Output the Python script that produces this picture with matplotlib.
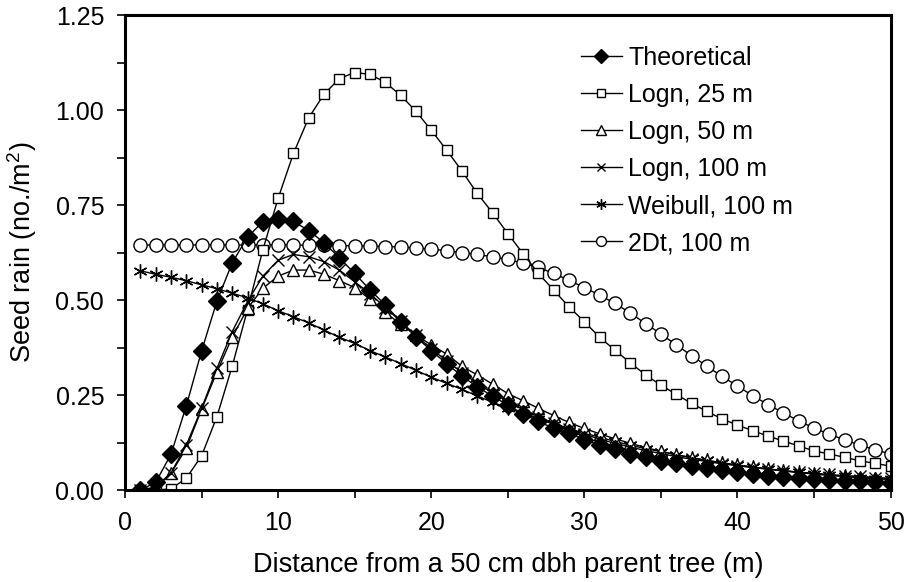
import numpy as np
import matplotlib
matplotlib.use("Agg")
import matplotlib.pyplot as plt
from matplotlib.ticker import MultipleLocator, FormatStrFormatter

plt.rcParams['font.family'] = ['Liberation Sans', 'DejaVu Sans']
plt.rcParams['mathtext.fontset'] = 'custom'
plt.rcParams['mathtext.rm'] = 'Liberation Sans'
plt.rcParams['mathtext.default'] = 'regular'

# distance from parent tree (m)
distance = np.arange(1, 51)

theoretical = [0.0, 0.02, 0.094, 0.221, 0.366, 0.497, 0.598, 0.666, 0.706, 0.714,
               0.707, 0.683, 0.651, 0.611, 0.570, 0.527, 0.487, 0.443, 0.403, 0.367,
               0.333, 0.300, 0.272, 0.247, 0.224, 0.200, 0.181, 0.162, 0.149, 0.133,
               0.118, 0.107, 0.095, 0.086, 0.077, 0.070, 0.063, 0.057, 0.053, 0.047,
               0.042, 0.038, 0.035, 0.031, 0.029, 0.026, 0.025, 0.023, 0.021, 0.019]

logn_25 = [0.0, 0.0, 0.003, 0.031, 0.090, 0.193, 0.326, 0.475, 0.632, 0.768,
           0.886, 0.980, 1.042, 1.083, 1.099, 1.094, 1.073, 1.039, 0.997, 0.947,
           0.895, 0.840, 0.781, 0.730, 0.675, 0.622, 0.570, 0.526, 0.482, 0.443,
           0.402, 0.368, 0.335, 0.303, 0.276, 0.252, 0.228, 0.207, 0.187, 0.171,
           0.156, 0.142, 0.129, 0.116, 0.103, 0.095, 0.086, 0.077, 0.070, 0.063]

logn_50 = [0.0, 0.005, 0.044, 0.110, 0.212, 0.311, 0.402, 0.478, 0.531, 0.563,
           0.579, 0.579, 0.568, 0.551, 0.533, 0.502, 0.468, 0.436, 0.408, 0.382,
           0.358, 0.326, 0.303, 0.279, 0.254, 0.235, 0.215, 0.196, 0.178, 0.162,
           0.148, 0.135, 0.123, 0.112, 0.102, 0.093, 0.085, 0.078, 0.071, 0.065,
           0.060, 0.055, 0.050, 0.046, 0.042, 0.039, 0.036, 0.033, 0.031, 0.028]

logn_100 = [0.0, 0.008, 0.045, 0.118, 0.215, 0.320, 0.417, 0.496, 0.563, 0.605,
            0.620, 0.614, 0.601, 0.579, 0.548, 0.517, 0.480, 0.444, 0.407, 0.372,
            0.340, 0.309, 0.281, 0.256, 0.233, 0.212, 0.193, 0.176, 0.161, 0.147,
            0.134, 0.123, 0.113, 0.104, 0.096, 0.088, 0.081, 0.075, 0.069, 0.064,
            0.059, 0.055, 0.051, 0.047, 0.044, 0.041, 0.038, 0.036, 0.033, 0.031]

weibull_100 = [0.577, 0.568, 0.560, 0.551, 0.540, 0.530, 0.518, 0.506, 0.490, 0.472,
               0.456, 0.440, 0.421, 0.402, 0.386, 0.367, 0.350, 0.333, 0.315, 0.297,
               0.281, 0.265, 0.248, 0.231, 0.216, 0.201, 0.187, 0.174, 0.161, 0.150,
               0.139, 0.128, 0.118, 0.109, 0.101, 0.093, 0.085, 0.078, 0.072, 0.066,
               0.061, 0.056, 0.051, 0.047, 0.043, 0.039, 0.036, 0.033, 0.030, 0.028]

t2d_100 = [0.645, 0.645, 0.645, 0.645, 0.645, 0.645, 0.645, 0.645, 0.645, 0.645,
           0.645, 0.644, 0.644, 0.643, 0.643, 0.642, 0.641, 0.640, 0.637, 0.634,
           0.630, 0.625, 0.620, 0.614, 0.607, 0.597, 0.586, 0.570, 0.552, 0.533,
           0.513, 0.491, 0.466, 0.438, 0.411, 0.382, 0.354, 0.326, 0.299, 0.274,
           0.248, 0.225, 0.203, 0.182, 0.163, 0.147, 0.132, 0.118, 0.106, 0.095]

fig = plt.figure(figsize=(9.06, 5.82), dpi=100)
ax = fig.add_axes([0.138, 0.158, 0.845, 0.816])

common = dict(color='black', lw=1.0, mec='black', mew=1.0)
ax.plot(distance, t2d_100, marker='o', ms=9.5, mfc='white', label='2Dt, 100 m', **common)
ax.plot(distance, logn_25, marker='s', ms=7.5, mfc='white', label='Logn, 25 m', **common)
ax.plot(distance, weibull_100, marker=(6, 2, 0), ms=10, mfc='white', label='Weibull, 100 m', **common)
ax.plot(distance, logn_50, marker='^', ms=9, mfc='white', label='Logn, 50 m', **common)
ax.plot(distance, logn_100, marker='x', ms=8, mfc='white', label='Logn, 100 m', **common)
ax.plot(distance, theoretical, marker='D', ms=9, mfc='black', label='Theoretical', **common)

ax.set_xlim(0, 50)
ax.set_ylim(0, 1.25)
ax.xaxis.set_major_locator(MultipleLocator(10))
ax.xaxis.set_minor_locator(MultipleLocator(5))
ax.yaxis.set_major_locator(MultipleLocator(0.25))
ax.yaxis.set_minor_locator(MultipleLocator(0.125))
ax.yaxis.set_major_formatter(FormatStrFormatter('%.2f'))
ax.tick_params(which='both', direction='out', width=1.2, length=6, labelsize=18)
ax.tick_params(axis='x', pad=9)
ax.tick_params(axis='y', pad=9)
for s in ax.spines.values():
    s.set_linewidth(2.2)

ax.set_xlabel('Distance from a 50 cm dbh parent tree (m)', fontsize=19.5, labelpad=12)
ax.set_ylabel('Seed rain (no./m$^{2}$)', fontsize=19.5, labelpad=12)

handles, labels = ax.get_legend_handles_labels()
order = ['Theoretical', 'Logn, 25 m', 'Logn, 50 m', 'Logn, 100 m', 'Weibull, 100 m', '2Dt, 100 m']
hmap = dict(zip(labels, handles))
ax.legend([hmap[k] for k in order], order, loc='upper left', bbox_to_anchor=(0.595, 0.935),
          frameon=False, fontsize=18, markerscale=0.75, handlelength=1.65,
          handletextpad=0.25, labelspacing=0.52, borderaxespad=0, borderpad=0)

fig.savefig('out.png', dpi=100)
